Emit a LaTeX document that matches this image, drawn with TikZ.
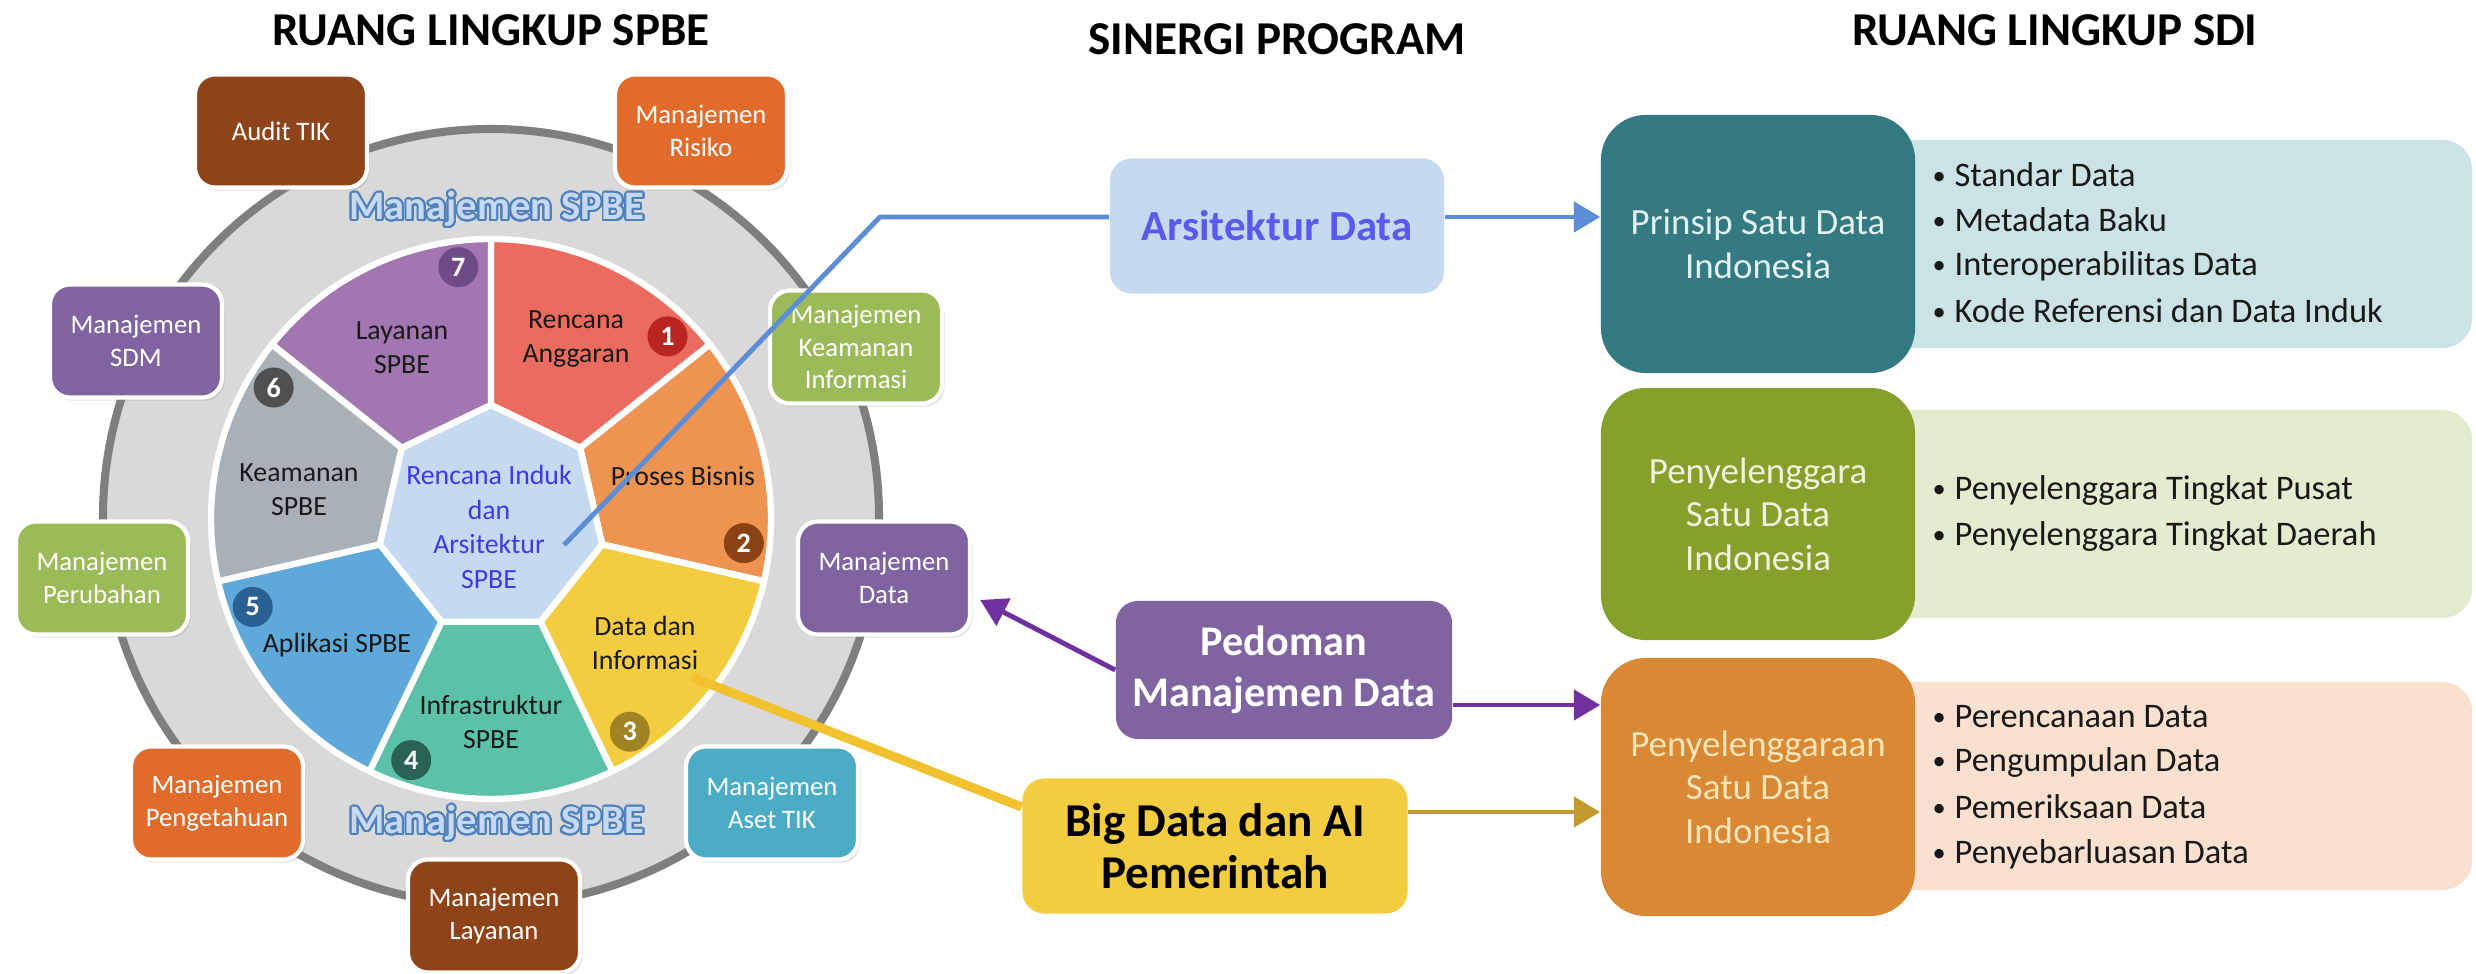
\documentclass[tikz,border=0pt]{standalone}
\usepackage{fontspec}
\setmainfont{Carlito}
\usepackage[copies]{contour}
\contourlength{0.55pt}
\contournumber{24}
\usetikzlibrary{arrows.meta,calc,shadows}
\definecolor{ringfill}{HTML}{D9D9D9}
\definecolor{ringline}{HTML}{7F7F7F}
\definecolor{c1}{HTML}{EC6B5F}
\definecolor{c2}{HTML}{EE9450}
\definecolor{c3}{HTML}{F3CD3F}
\definecolor{c4}{HTML}{5BC2A8}
\definecolor{c5}{HTML}{5EA8DA}
\definecolor{c6}{HTML}{A9B1B6}
\definecolor{c7}{HTML}{A276B0}
\definecolor{n1}{HTML}{B8261F}
\definecolor{n2}{HTML}{8B4215}
\definecolor{n3}{HTML}{A08424}
\definecolor{n4}{HTML}{2A6355}
\definecolor{n5}{HTML}{2A6195}
\definecolor{n6}{HTML}{505050}
\definecolor{n7}{HTML}{6E4A87}
\definecolor{cen}{HTML}{C5D9F1}
\definecolor{centxt}{HTML}{3B3BE8}
\definecolor{brownbox}{HTML}{8F4318}
\definecolor{orangebox}{HTML}{E06B2B}
\definecolor{purplebox}{HTML}{8064A2}
\definecolor{greenbox}{HTML}{9BBB59}
\definecolor{tealbox}{HTML}{4BACC6}
\definecolor{spbeblue}{HTML}{4F81BD}
\definecolor{spbefill}{HTML}{C6D9F1}
\definecolor{arsbox}{HTML}{C5D9F1}
\definecolor{arstxt}{HTML}{5A5AEF}
\definecolor{pedbox}{HTML}{8064A2}
\definecolor{bigbox}{HTML}{F3CD3F}
\definecolor{prinbox}{HTML}{347A82}
\definecolor{pylbox}{HTML}{86A02C}
\definecolor{pyrbox}{HTML}{D98833}
\definecolor{prinlst}{HTML}{CCE3E6}
\definecolor{pyllst}{HTML}{E3ECCF}
\definecolor{pyrlst}{HTML}{FAE0CF}
\definecolor{printxt}{HTML}{E2F1F2}
\definecolor{pyltxt}{HTML}{EEF3DC}
\definecolor{pyrtxt}{HTML}{FBE5B8}
\definecolor{bluearr}{HTML}{5B8ED6}
\definecolor{purplearr}{HTML}{7030A0}
\definecolor{goldarr}{HTML}{C39A2E}
\definecolor{yellowln}{HTML}{F2C12E}
\newcommand{\lbul}{{\fontsize{7.5}{8}\selectfont\raisebox{0.6pt}{•}}\hspace{2.5pt}}
\begin{document}
\begin{tikzpicture}[x=0.01cm,y=0.01cm,
  ttl/.style={font=\bfseries\fontsize{13.4}{16}\selectfont, text=black, inner sep=0pt},
  mbox/.style={rounded corners=0.2cm, minimum width=1.72cm, minimum height=1.13cm,
    draw=white, line width=1.2pt, text=white, align=center, inner sep=1pt,
    font=\fontsize{7.6}{9.2}\selectfont,
    drop shadow={opacity=0.22, shadow xshift=0.7pt, shadow yshift=-0.9pt}},
  sect/.style={align=center, font=\fontsize{7.9}{9.7}\selectfont, text=black!90, inner sep=0pt},
  num/.style={circle, minimum size=0.4cm, inner sep=0pt, text=white,
    font=\bfseries\fontsize{8}{9}\selectfont},
  prog/.style={rounded corners=0.22cm, align=center, inner sep=0pt},
  sdi/.style={rounded corners=0.45cm, minimum width=3.14cm, align=center,
    font=\fontsize{10.5}{12.4}\selectfont, inner sep=0pt},
  lstbg/.style={rounded corners=0.3cm, minimum width=5.92cm, minimum height=2.08cm, inner sep=0pt},
  item/.style={anchor=west, font=\fontsize{9.8}{12}\selectfont, text=black!90, inner sep=0pt},
  spbe/.style={font=\bfseries\fontsize{11.5}{13}\selectfont, inner sep=0pt},
  conn/.style={line width=1.4pt},
  tip/.style={-{Triangle[length=7.5pt,width=8.5pt]}}
]
\useasboundingbox (0,0) rectangle (2476,-974);
\fill[white] (0,0) rectangle (2476,-974);

% titles
\node[ttl] (t1) at (491,-30) {RUANG LINGKUP SPBE};
\node[ttl] (t2) at (1277,-39) {SINERGI PROGRAM};
\node[ttl] (t3) at (2055,-30) {RUANG LINGKUP SDI};

% grey ring
\filldraw[fill=ringfill, draw=ringline, line width=2.3pt] (491,-517) circle[radius=388];

% surrounding boxes
\node[mbox, fill=brownbox]  (audit) at (281,-131) {Audit TIK};
\node[mbox, fill=orangebox] (risk)  at (701,-131) {Manajemen\\Risiko};
\node[mbox, fill=purplebox] (sdm)   at (136,-341) {Manajemen\\SDM};
\node[mbox, fill=greenbox]  (kinf)  at (856,-347) {Manajemen\\Keamanan\\Informasi};
\node[mbox, fill=greenbox]  (perub) at (102,-578) {Manajemen\\Perubahan};
\node[mbox, fill=purplebox] (mdata) at (884,-578) {Manajemen\\Data};
\node[mbox, fill=orangebox] (peng)  at (217,-803) {Manajemen\\Pengetahuan};
\node[mbox, fill=tealbox]   (aset)  at (772,-803) {Manajemen\\Aset TIK};
\node[mbox, fill=brownbox]  (lay)   at (494,-916) {Manajemen\\Layanan};

% Manajemen SPBE labels
\node[spbe] (ms1) at (497,-210) {\contour{spbeblue}{\textcolor{spbefill}{Manajemen SPBE}}};
\node[spbe] (ms2) at (497,-824) {\contour{spbeblue}{\textcolor{spbefill}{Manajemen SPBE}}};

% pie
\begin{scope}[shift={(491,-519)}]
\foreach \i/\col in {1/c1,2/c2,3/c3,4/c4,5/c5,6/c6,7/c7}{
  \pgfmathsetmacro\a{90-(\i-1)*360/7}
  \pgfmathsetmacro\b{90-\i*360/7}
  \filldraw[fill=\col, draw=white, line width=1.8pt, line join=round]
    (\a:114) -- (\a:280) arc[start angle=\a, end angle=\b, radius=280] -- (\b:114) -- cycle;
}
\filldraw[fill=cen, draw=white, line width=1.8pt, line join=round]
  (90:114) \foreach \k in {1,...,6}{ -- ({90-\k*360/7}:114)} -- cycle;
\foreach \i/\col in {1/n1,2/n2,3/n3,4/n4,5/n5,6/n6,7/n7}{
  \pgfmathsetmacro\t{90-\i*360/7+7.4}
  \node[num, fill=\col] (num\i) at (\t:254) {\i};
}
\end{scope}

% sector texts
\node[sect] (s7) at (402,-348) {Layanan\\SPBE};
\node[sect] (s1) at (576,-339) {Rencana\\Anggaran};
\node[sect] (s2) at (683,-476) {Proses Bisnis};
\node[sect] (s3) at (645,-643) {Data dan\\Informasi};
\node[sect] (s4) at (491,-722) {Infrastruktur\\SPBE};
\node[sect] (s5) at (337,-645) {Aplikasi SPBE};
\node[sect] (s6) at (299,-490) {Keamanan\\SPBE};
\node[sect, text=centxt, font=\fontsize{7.9}{9.8}\selectfont] (sc) at (489,-527) {Rencana Induk\\dan\\Arsitektur\\SPBE};

% program boxes
\node[prog, fill=arsbox, minimum width=3.34cm, minimum height=1.35cm, text=arstxt,
  font=\bfseries\fontsize{12.2}{14}\selectfont] (ars) at (1277,-226) {Arsitektur Data};
\node[prog, fill=pedbox, minimum width=3.36cm, minimum height=1.38cm, text=white,
  font=\bfseries\fontsize{12}{14.5}\selectfont] (ped) at (1284,-670) {Pedoman\\Manajemen Data};
\node[prog, fill=bigbox, minimum width=3.85cm, minimum height=1.35cm, text=black,
  font=\bfseries\fontsize{13.4}{14.8}\selectfont] (big) at (1215,-846) {Big Data dan AI\\Pemerintah};

% SDI list backgrounds
\node[lstbg, fill=prinlst] (l1) at (2176,-244) {};
\node[lstbg, fill=pyllst]  (l2) at (2176,-514) {};
\node[lstbg, fill=pyrlst]  (l3) at (2176,-786) {};

% SDI boxes
\node[sdi, fill=prinbox, minimum height=2.58cm, text=printxt] (prin) at (1758,-244) {Prinsip Satu Data\\Indonesia};
\node[sdi, fill=pylbox, minimum height=2.52cm, text=pyltxt] (pyl) at (1758,-514) {Penyelenggara\\Satu Data\\Indonesia};
\node[sdi, fill=pyrbox, minimum height=2.58cm, text=pyrtxt] (pyr) at (1758,-787) {Penyelenggaraan\\Satu Data\\Indonesia};

% list items
\node[item] (i11) at (1932,-175) {\lbul Standar Data};
\node[item] (i12) at (1932,-220) {\lbul Metadata Baku};
\node[item] (i13) at (1932,-266) {\lbul Interoperabilitas Data};
\node[item] (i14) at (1932,-311) {\lbul Kode Referensi dan Data Induk};
\node[item] (i21) at (1932,-491) {\lbul Penyelenggara Tingkat Pusat};
\node[item] (i22) at (1932,-537) {\lbul Penyelenggara Tingkat Daerah};
\node[item] (i31) at (1932,-717) {\lbul Perencanaan Data};
\node[item] (i32) at (1932,-763) {\lbul Pengumpulan Data};
\node[item] (i33) at (1932,-807) {\lbul Pemeriksaan Data};
\node[item] (i34) at (1932,-854) {\lbul Penyebarluasan Data};

% connectors
\coordinate (bstart) at (564,-545);
\coordinate (bkink) at (880,-217);
\draw[conn, bluearr, line join=round] (bstart) -- (bkink) -- (bkink -| ars.west);
\draw[conn, bluearr, tip] (bkink -| ars.east) -- (bkink -| prin.west);

\draw[conn, purplearr, tip] (ped.west) -- ($(mdata.east)+(8,-22)$);
\coordinate (pedr) at ($(ped.east)+(0,-35)$);
\draw[conn, purplearr, tip] (pedr) -- (pedr -| pyr.west);

\coordinate (yst) at (692,-677);
\draw[line width=2.6pt, yellowln] (yst) -- ($(big.west)+(0,39)$);
\coordinate (bigr) at ($(big.east)+(0,34)$);
\draw[conn, goldarr, tip] (bigr) -- (bigr -| pyr.west);
\end{tikzpicture}
\end{document}
